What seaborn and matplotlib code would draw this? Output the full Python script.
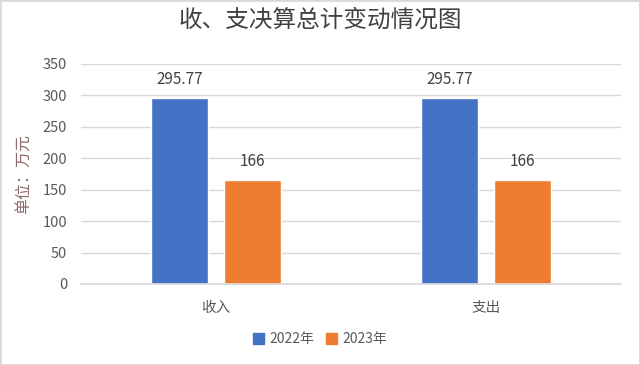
import pandas as pd
import seaborn as sns
import matplotlib.pyplot as plt
from matplotlib.patches import Rectangle

categories = ["收入", "支出"]
years = ["2022年", "2023年"]
values_2022 = [295.77, 295.77]
values_2023 = [166, 166]
yticks = [0, 50, 100, 150, 200, 250, 300, 350]

df = pd.DataFrame({
    "category": categories * 2,
    "year": [years[0]] * 2 + [years[1]] * 2,
    "value": values_2022 + values_2023,
})

sns.set_theme(style="white")
plt.rcParams['font.family'] = ['Noto Sans CJK SC', 'DejaVu Sans']

fig = plt.figure(figsize=(6.4, 3.65), dpi=100)
fig.patches.append(Rectangle((0, 0), 1, 1, transform=fig.transFigure,
                             fill=False, edgecolor="#d9d9d9", linewidth=2))
ax = fig.add_axes([0.1266, 0.222, 0.8434, 0.6027])

sns.barplot(data=df, x="category", y="value", hue="year", order=categories,
            hue_order=years, palette=["#4472C4", "#ED7D31"], width=0.54,
            gap=0.222, saturation=1, ax=ax, legend=False)

for cont in ax.containers:
    ax.bar_label(cont, fmt="%g", padding=7, fontsize=11, color="#404040")

ax.set_ylim(0, 350)
ax.set_yticks(yticks)
ax.set_xlim(-0.5, 1.5)
ax.yaxis.grid(True, color="#d9d9d9", linewidth=1)
ax.set_axisbelow(True)
for s in ["top", "right", "left"]:
    ax.spines[s].set_visible(False)
ax.spines["bottom"].set_color("#d9d9d9")
ax.tick_params(axis="y", length=0, labelsize=10.5, labelcolor="#595959", pad=10)
ax.tick_params(axis="x", length=0, labelsize=10.5, labelcolor="#595959", pad=12)
ax.set_xlabel("")
ax.set_ylabel("单位：万元", fontsize=11.5, color="#8c6a6a", labelpad=8)

fig.suptitle("收、支决算总计变动情况图", y=0.975, fontsize=17, color="#404040")

handles = [Rectangle((0, 0), 1, 1, color=c) for c in ["#4472C4", "#ED7D31"]]
fig.legend(handles, years, loc="center", bbox_to_anchor=(0.5, 0.07), ncol=2,
           frameon=False, fontsize=10, handlelength=0.8, handleheight=0.8,
           handletextpad=0.4, columnspacing=0.8, labelcolor="#595959")

fig.savefig("out.png", dpi=100)
